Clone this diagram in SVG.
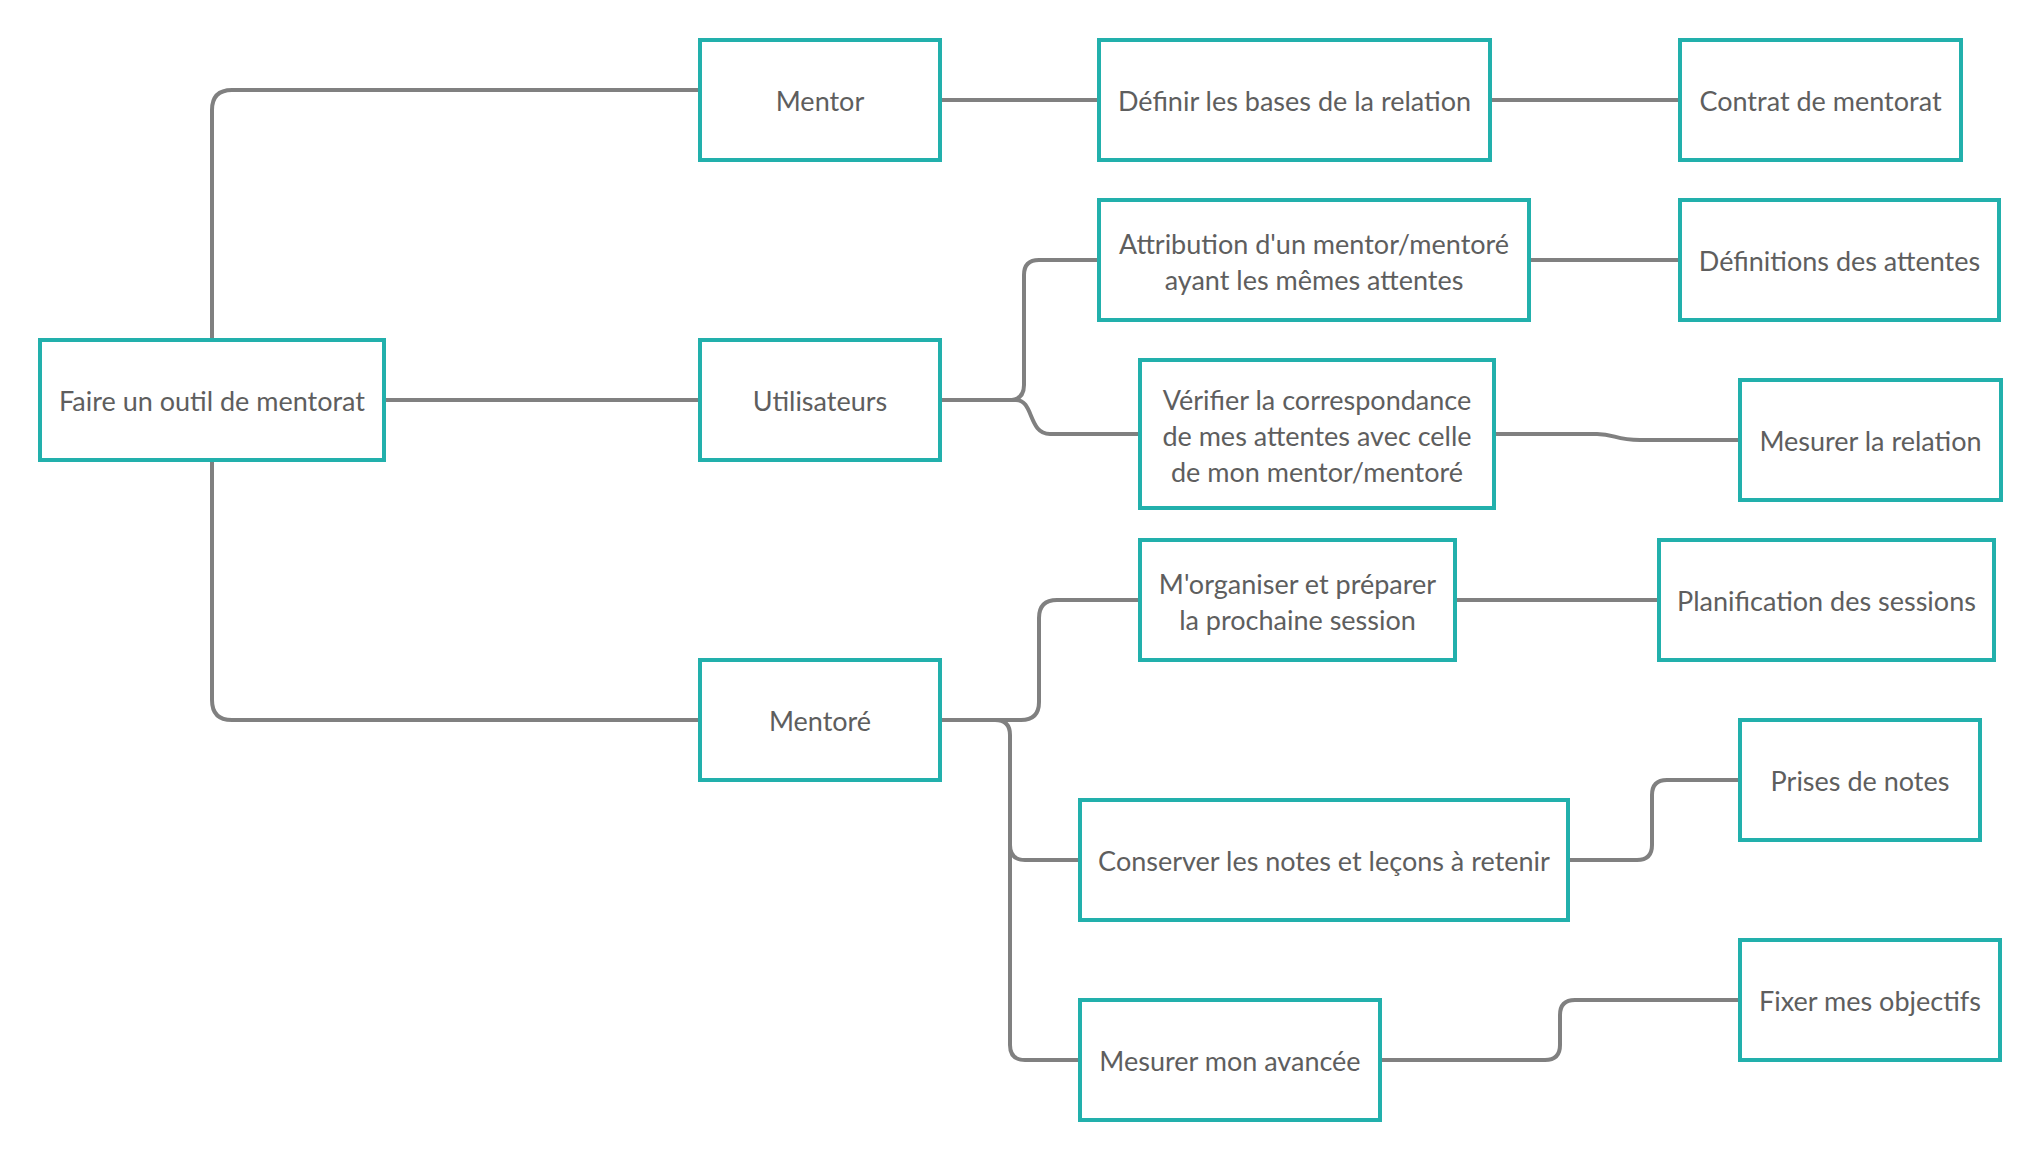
<svg xmlns="http://www.w3.org/2000/svg" width="2042" height="1160" viewBox="0 0 2042 1160">
<style>
.box{fill:#fff;stroke:#22b0ac;stroke-width:4}
.t{font-family:Lato,"Open Sans",sans-serif;font-size:27px;fill:#5e5e5e;text-anchor:middle;dominant-baseline:central}
.c{fill:none;stroke:#808080;stroke-width:4}
</style>
<rect width="2042" height="1160" fill="#fff"/>
<g id="connectors">
<path class="c" d="M212,340 V110 Q212,90 232,90 H700"/>
<path class="c" d="M384,400 H700"/>
<path class="c" d="M212,460 V700 Q212,720 232,720 H700"/>
<path class="c" d="M940,100 H1099"/>
<path class="c" d="M1490,100 H1680"/>
<path class="c" d="M940,400 H1009 Q1024,400 1024,385 V275 Q1024,260 1039,260 H1099"/>
<path class="c" d="M940,400 H1016 C1034,400 1028,434 1050,434 H1140"/>
<path class="c" d="M1529,260 H1680"/>
<path class="c" d="M1494,434 H1597 C1615,434 1615,440 1640,440 H1740"/>
<path class="c" d="M940,720 H1021 Q1039,720 1039,702 V618 Q1039,600 1057,600 H1140"/>
<path class="c" d="M940,720 H995 Q1010,720 1010,735 V845 Q1010,860 1025,860 H1080"/>
<path class="c" d="M1010,840 V1045 Q1010,1060 1025,1060 H1080"/>
<path class="c" d="M1455,600 H1659"/>
<path class="c" d="M1568,860 H1637 Q1652,860 1652,845 V795 Q1652,780 1667,780 H1740"/>
<path class="c" d="M1380,1060 H1545 Q1560,1060 1560,1045 V1015 Q1560,1000 1575,1000 H1740"/>
</g>
<g id="root"><rect class="box" x="40" y="340" width="344" height="120"/><text class="t" x="212" y="400">Faire un outil de mentorat</text></g>
<g id="mentor"><rect class="box" x="700" y="40" width="240" height="120"/><text class="t" x="820" y="100">Mentor</text></g>
<g id="utilisateurs"><rect class="box" x="700" y="340" width="240" height="120"/><text class="t" x="820" y="400">Utilisateurs</text></g>
<g id="mentore"><rect class="box" x="700" y="660" width="240" height="120"/><text class="t" x="820" y="720">Mentoré</text></g>
<g id="definir"><rect class="box" x="1099" y="40" width="391" height="120"/><text class="t" x="1294.5" y="100">Définir les bases de la relation</text></g>
<g id="contrat"><rect class="box" x="1680" y="40" width="281" height="120"/><text class="t" x="1820.5" y="100">Contrat de mentorat</text></g>
<g id="attribution"><rect class="box" x="1099" y="200" width="430" height="120"/><text class="t" x="1314" y="243">Attribution d'un mentor/mentoré</text><text class="t" x="1314" y="279">ayant les mêmes attentes</text></g>
<g id="definitions"><rect class="box" x="1680" y="200" width="319" height="120"/><text class="t" x="1839.5" y="260">Définitions des attentes</text></g>
<g id="verifier"><rect class="box" x="1140" y="360" width="354" height="148"/><text class="t" x="1317" y="399">Vérifier la correspondance</text><text class="t" x="1317" y="435">de mes attentes avec celle</text><text class="t" x="1317" y="471">de mon mentor/mentoré</text></g>
<g id="mesurer-relation"><rect class="box" x="1740" y="380" width="261" height="120"/><text class="t" x="1870.5" y="440">Mesurer la relation</text></g>
<g id="organiser"><rect class="box" x="1140" y="540" width="315" height="120"/><text class="t" x="1297.5" y="583">M'organiser et préparer</text><text class="t" x="1297.5" y="619">la prochaine session</text></g>
<g id="planification"><rect class="box" x="1659" y="540" width="335" height="120"/><text class="t" x="1826.5" y="600">Planification des sessions</text></g>
<g id="prises"><rect class="box" x="1740" y="720" width="240" height="120"/><text class="t" x="1860" y="780">Prises de notes</text></g>
<g id="conserver"><rect class="box" x="1080" y="800" width="488" height="120"/><text class="t" x="1324" y="860">Conserver les notes et leçons à retenir</text></g>
<g id="mesurer-avancee"><rect class="box" x="1080" y="1000" width="300" height="120"/><text class="t" x="1230" y="1060">Mesurer mon avancée</text></g>
<g id="fixer"><rect class="box" x="1740" y="940" width="260" height="120"/><text class="t" x="1870" y="1000">Fixer mes objectifs</text></g>
</svg>
